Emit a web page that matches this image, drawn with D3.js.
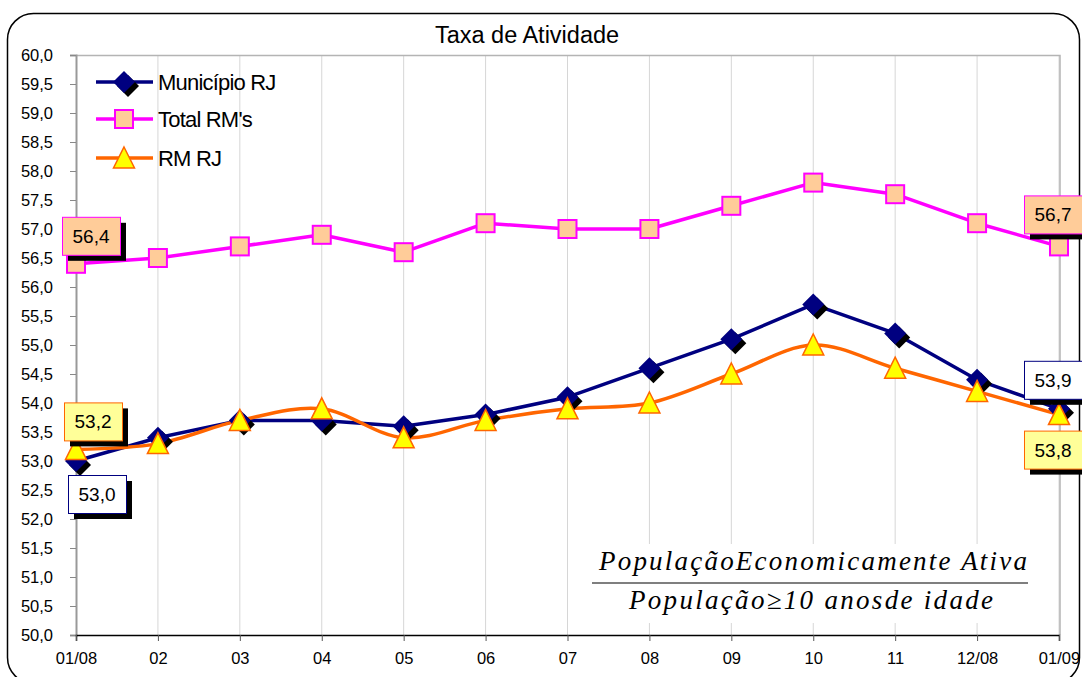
<!DOCTYPE html>
<html lang="pt">
<head>
    <meta charset="UTF-8">
    <title>Taxa de Atividade</title>
    <script src="https://d3js.org/d3.v7.min.js"></script>
    <style>
        body { margin: 0; background: #fff; }
        text { font-family: "Liberation Sans", Arial, sans-serif; fill: #000; }
        .formula text { font-family: "Liberation Serif", "Times New Roman", serif; font-style: italic; }
    </style>
</head>
<body>
    <div id="chart"></div>
    <script>
        // Data
        const categories = ["01/08", "02", "03", "04", "05", "06", "07", "08", "09", "10", "11", "12/08", "01/09"];
        const municipioRJ = [53.0, 53.4, 53.7, 53.7, 53.6, 53.8, 54.1, 54.6, 55.1, 55.7, 55.2, 54.4, 53.9];
        const totalRMs = [56.4, 56.5, 56.7, 56.9, 56.6, 57.1, 57.0, 57.0, 57.4, 57.8, 57.6, 57.1, 56.7];
        const rmRJ = [53.2, 53.3, 53.7, 53.9, 53.4, 53.7, 53.9, 54.0, 54.5, 55.0, 54.6, 54.2, 53.8];
        const yTicks = d3.range(50, 60.001, 0.5);
        const seriesNames = ["Município RJ", "Total RM's", "RM RJ"];

        const W = 1082, H = 677;
        const plot = {left: 76, right: 1059, top: 55, bottom: 635};

        const svg = d3.select("#chart").append("svg")
            .attr("width", W)
            .attr("height", H);

        const x = d3.scalePoint().domain(categories).range([plot.left, plot.right]);
        const y = d3.scaleLinear().domain([50, 60]).range([plot.bottom, plot.top]);
        const fmt = d => d3.format(".1f")(d).replace(".", ",");

        // outer rounded frame
        svg.append("rect")
            .attr("x", 7.5).attr("y", 13.5)
            .attr("width", 1072).attr("height", 670)
            .attr("rx", 26)
            .attr("fill", "none")
            .attr("stroke", "#000")
            .attr("stroke-width", 1.5);

        // title
        svg.append("text")
            .attr("x", 527).attr("y", 43)
            .attr("text-anchor", "middle")
            .attr("font-size", "23.5px")
            .text("Taxa de Atividade");

        // vertical gridlines
        svg.append("g").selectAll("line")
            .data(categories.slice(1))
            .join("line")
            .attr("x1", d => x(d)).attr("x2", d => x(d))
            .attr("y1", plot.top).attr("y2", plot.bottom)
            .attr("stroke", "#d6d6d6");

        // plot area border (top + right)
        svg.append("path")
            .attr("d", `M${plot.left},${plot.top + 0.5}H${plot.right + 1}V${plot.bottom}`)
            .attr("fill", "none")
            .attr("stroke", "#b4b4b4")
            .attr("stroke-width", 1.5);

        // y axis
        const yAxis = svg.append("g")
            .attr("transform", `translate(${plot.left},0)`)
            .call(d3.axisLeft(y).tickValues(yTicks).tickFormat(fmt).tickSize(6).tickPadding(17));
        yAxis.select(".domain").attr("stroke", "#999").attr("stroke-width", 2);
        yAxis.selectAll(".tick line").attr("stroke", "#888");
        yAxis.selectAll(".tick text")
            .attr("font-size", "16.5px")
            .attr("font-family", "Liberation Sans, Arial, sans-serif");

        // x axis
        const xAxis = svg.append("g")
            .attr("transform", `translate(0,${plot.bottom})`)
            .call(d3.axisBottom(x).tickSize(6).tickPadding(11));
        xAxis.select(".domain").attr("stroke", "#000").attr("stroke-width", 1.5);
        xAxis.selectAll(".tick line").attr("stroke", "#555");
        xAxis.selectAll(".tick text")
            .attr("font-size", "16.5px")
            .attr("font-family", "Liberation Sans, Arial, sans-serif");

        // formula box
        const formula = svg.append("g").attr("class", "formula");
        formula.append("rect")
            .attr("x", 588).attr("y", 544)
            .attr("width", 448).attr("height", 79)
            .attr("fill", "#fff");
        formula.append("text")
            .attr("x", 599).attr("y", 570)
            .attr("font-size", "27px")
            .attr("textLength", 428)
            .attr("lengthAdjust", "spacing")
            .text("PopulaçãoEconomicamente Ativa");
        formula.append("line")
            .attr("x1", 592).attr("x2", 1028)
            .attr("y1", 583).attr("y2", 583)
            .attr("stroke", "#000").attr("stroke-width", 1.2);
        formula.append("text")
            .attr("x", 629).attr("y", 609)
            .attr("font-size", "27px")
            .attr("textLength", 364)
            .attr("lengthAdjust", "spacing")
            .text("População≥10 anosde idade");

        // marker drawers
        function diamond(g, cx, cy) {
            g.append("path")
                .attr("d", `M${cx + 4},${cy - 7}L${cx + 15},${cy + 4}L${cx + 4},${cy + 15}L${cx - 7},${cy + 4}Z`)
                .attr("fill", "#000");
            g.append("path")
                .attr("d", `M${cx},${cy - 11}L${cx + 11},${cy}L${cx},${cy + 11}L${cx - 11},${cy}Z`)
                .attr("fill", "#000080");
        }
        function square(g, cx, cy) {
            g.append("rect")
                .attr("x", cx - 9).attr("y", cy - 9)
                .attr("width", 18).attr("height", 18)
                .attr("fill", "#FFCC99")
                .attr("stroke", "#FF00FF")
                .attr("stroke-width", 2);
        }
        function triangle(g, cx, cy) {
            g.append("path")
                .attr("d", `M${cx},${cy - 11}L${cx + 10.5},${cy + 10}L${cx - 10.5},${cy + 10}Z`)
                .attr("fill", "#FFFF00")
                .attr("stroke", "#FF6600")
                .attr("stroke-width", 1.5);
        }

        const series = [
            {name: seriesNames[0], values: municipioRJ, color: "#000080", curve: d3.curveLinear, marker: diamond},
            {name: seriesNames[1], values: totalRMs, color: "#FF00FF", curve: d3.curveLinear, marker: square},
            {name: seriesNames[2], values: rmRJ, color: "#FF6600", curve: d3.curveCatmullRom.alpha(0), marker: triangle}
        ];

        // lines + markers
        series.forEach(s => {
            const line = d3.line()
                .x((d, i) => x(categories[i]))
                .y(d => y(d))
                .curve(s.curve);
            svg.append("path")
                .datum(s.values)
                .attr("d", line)
                .attr("fill", "none")
                .attr("stroke", s.color)
                .attr("stroke-width", 3.5)
                .attr("stroke-linejoin", "round");
        });
        series.forEach(s => {
            const g = svg.append("g");
            s.values.forEach((v, i) => s.marker(g, x(categories[i]), y(v)));
        });

        // legend
        const legend = svg.append("g");
        const legendY = [82, 119, 158];
        series.forEach((s, i) => {
            legend.append("line")
                .attr("x1", 96).attr("x2", 153)
                .attr("y1", legendY[i]).attr("y2", legendY[i])
                .attr("stroke", s.color)
                .attr("stroke-width", 3.5);
            s.marker(legend, 124, legendY[i]);
            legend.append("text")
                .attr("x", 158).attr("y", legendY[i] + 8)
                .attr("font-size", "22px")
                .attr("letter-spacing", "-0.8px")
                .text(s.name);
        });

        // data labels on first/last points
        const labelStyles = [
            {fill: "#FFFFFF", stroke: "#000080"},
            {fill: "#FFCC99", stroke: "#FF00FF"},
            {fill: "#FFFF99", stroke: "#FF6600"}
        ];
        const labels = [
            {s: 1, i: 0, dx: 15, dy: -28},
            {s: 2, i: 0, dx: 17, dy: -28},
            {s: 0, i: 0, dx: 21, dy: 33},
            {s: 1, i: 12, dx: -6, dy: -32},
            {s: 0, i: 12, dx: -6, dy: -29},
            {s: 2, i: 12, dx: -6, dy: 35}
        ];
        const bw = 58, bh = 38;
        labels.forEach(l => {
            const v = series[l.s].values[l.i];
            const cx = x(categories[l.i]) + l.dx;
            const cy = y(v) + l.dy;
            const g = svg.append("g");
            g.append("rect")
                .attr("x", cx - bw / 2 + 6).attr("y", cy - bh / 2 + 6)
                .attr("width", bw).attr("height", bh)
                .attr("fill", "#000");
            g.append("rect")
                .attr("x", cx - bw / 2 + 0.5).attr("y", cy - bh / 2 + 0.5)
                .attr("width", bw).attr("height", bh)
                .attr("fill", labelStyles[l.s].fill)
                .attr("stroke", labelStyles[l.s].stroke)
                .attr("stroke-width", 1);
            g.append("text")
                .attr("x", cx).attr("y", cy + 7)
                .attr("text-anchor", "middle")
                .attr("font-size", "19px")
                .text(fmt(v));
        });
    </script>
</body>
</html>
